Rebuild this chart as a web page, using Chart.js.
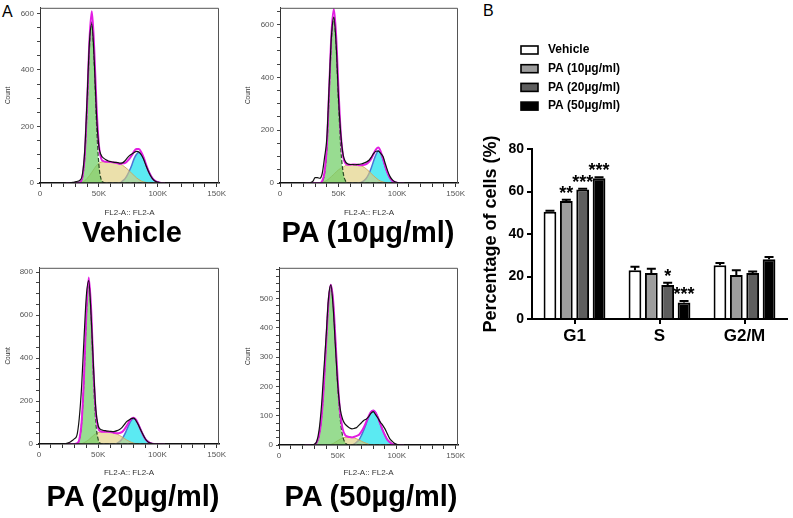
<!DOCTYPE html>
<html><head><meta charset="utf-8">
<script src="https://cdn.jsdelivr.net/npm/chart.js@4.4.0/dist/chart.umd.min.js"></script>
<style>
html,body{margin:0;padding:0;background:#fff}
body{width:793px;height:518px;position:relative;overflow:hidden;font-family:"Liberation Sans",Arial,sans-serif}
canvas{position:absolute}
.big{position:absolute;font-weight:bold;font-size:29px;line-height:29px;white-space:nowrap;transform:translateX(-50%);color:#000}
.lab{position:absolute;font-size:16px;line-height:16px;color:#000}
</style></head><body>
<div class="lab" style="left:2px;top:4px">A</div>
<div class="lab" style="left:483px;top:3px">B</div>
<canvas id="h1" width="232" height="222" style="left:0;top:0"></canvas>
<canvas id="h2" width="232" height="222" style="left:240px;top:0"></canvas>
<canvas id="h3" width="232" height="222" style="left:0;top:260px"></canvas>
<canvas id="h4" width="232" height="222" style="left:240px;top:260px"></canvas>
<canvas id="bars" width="323" height="330" style="left:470px;top:30px"></canvas>
<div class="big" style="left:132px;top:218px">Vehicle</div>
<div class="big" style="left:368px;top:218px">PA (10µg/ml)</div>
<div class="big" style="left:133px;top:482px">PA (20µg/ml)</div>
<div class="big" style="left:371px;top:482px">PA (50µg/ml)</div>
<script>
// ---------- Panel A: DNA content histograms (x in thousands, FL2-A) ----------
const gridK = [22,24,26,28,30,32,34,36,38,40,42,44,46,48,50,52,54,56,58,60,62,64,66,68,70,72,74,76,78,80,82,84,86,88,90,92,94,96,98,100,102,104,106];
const axisRangeK = [0, 152];

// Vehicle
const vehData = [0,0,1,2,4,6,10,30,115,300,500,563,440,240,130,98,88,82,78,76,74,73,72,70,71,78,88,97,103,108,112,110,100,84,62,42,25,13,6,3,1,0,0];
const vehG1   = [0,0,0,0,0,0,2,18,90,265,480,570,430,210,65,12,2,0,0,0,0,0,0,0,0,0,0,0,0,0,0,0,0,0,0,0,0,0,0,0,0,0,0];
const vehS    = [0,0,0,0,0,0,0,3,8,16,26,38,50,62,70,74,75,75,75,74,73,72,70,67,63,57,50,42,34,26,18,12,7,4,2,0,0,0,0,0,0,0,0];
const vehG2   = [0,0,0,0,0,0,0,0,0,0,0,0,0,0,0,0,0,0,0,0,0,0,0,0,7,14,27,44,64,87,102,108,102,87,64,44,27,14,7,3,1,0,0];
const vehFit  = [0,0,0,0,0,0,2,21,98,281,506,608,480,272,135,86,77,75,75,74,73,72,70,67,70,71,77,86,98,113,120,120,109,91,66,44,27,14,7,3,1,0,0];

// PA 10 µg/ml
const pa10Data = [0,0,1,6,20,20,18,35,95,170,370,560,628,520,320,180,105,80,72,70,70,69,70,71,73,76,80,86,98,112,120,121,112,100,72,45,24,12,5,2,0,0,0];
const pa10G1   = [0,0,0,0,0,0,0,5,35,130,340,545,625,510,300,125,38,8,1,0,0,0,0,0,0,0,0,0,0,0,0,0,0,0,0,0,0,0,0,0,0,0,0];
const pa10S    = [0,0,0,0,0,0,0,2,5,10,17,25,33,42,50,56,60,66,68,69,70,70,69,67,64,59,52,44,35,27,19,12,7,4,2,0,0,0,0,0,0,0,0];
const pa10G2   = [0,0,0,0,0,0,0,0,0,0,0,0,0,0,0,0,0,0,0,0,0,0,0,0,4,10,20,36,58,84,108,122,112,88,60,36,18,8,3,1,0,0,0];
const pa10Fit  = [0,0,0,0,0,0,0,7,40,140,357,570,658,552,350,181,98,74,69,69,70,70,69,67,68,69,72,80,93,111,127,134,119,92,62,36,18,8,3,1,0,0,0];

// PA 20 µg/ml
const pa20Data = [0,4,8,16,25,40,120,270,490,690,760,600,360,160,85,68,64,62,60,59,58,59,62,68,76,90,104,112,118,120,108,88,64,42,22,10,4,1,0,0,0,0,0];
const pa20G1   = [0,0,0,0,0,3,20,100,305,600,755,600,305,100,20,3,0,0,0,0,0,0,0,0,0,0,0,0,0,0,0,0,0,0,0,0,0,0,0,0,0,0,0];
const pa20S    = [0,0,0,0,0,0,0,2,6,12,20,30,40,48,53,56,57,57,57,56,54,51,46,40,33,26,19,13,8,4,2,0,0,0,0,0,0,0,0,0,0,0,0];
const pa20G2   = [0,0,0,0,0,0,0,0,0,0,0,0,0,0,0,0,0,0,0,0,0,0,4,11,22,41,65,90,110,118,110,90,65,41,22,11,4,1,0,0,0,0,0];
const pa20Fit  = [0,0,0,0,0,3,20,102,311,612,775,630,345,148,73,59,57,57,57,56,54,51,50,51,55,67,84,103,118,122,112,90,65,41,22,11,4,1,0,0,0,0,0];

// PA 50 µg/ml
const pa50Data = [0,0,0,1,3,12,50,130,250,370,500,547,470,330,200,123,88,72,64,58,55,57,60,68,76,84,88,96,108,114,104,92,78,68,55,38,22,13,6,2,0,0,0];
const pa50G1   = [0,0,0,0,0,9,32,89,197,347,487,545,487,347,197,89,32,9,2,0,0,0,0,0,0,0,0,0,0,0,0,0,0,0,0,0,0,0,0,0,0,0,0];
const pa50S    = [0,0,0,0,0,0,0,0,0,0,0,2,5,10,15,20,24,26,27,27,26,24,21,17,13,9,6,3,1,0,0,0,0,0,0,0,0,0,0,0,0,0,0];
const pa50G2   = [0,0,0,0,0,0,0,0,0,0,0,0,0,0,0,0,0,0,0,0,0,4,10,18,33,51,72,94,111,118,111,94,72,51,33,18,10,4,2,0,0,0,0];
const pa50Fit  = [0,0,0,0,0,9,32,89,197,347,487,547,492,357,212,109,56,35,29,27,26,28,31,35,46,60,78,97,112,118,111,94,72,51,33,18,10,4,2,0,0,0,0];

// ---------- Panel B: cell-cycle distribution ----------
const phases = ['G1', 'S', 'G2/M'];
const groupNames = ['Vehicle', 'PA (10µg/ml)', 'PA (20µg/ml)', 'PA (50µg/ml)'];
const vehiclePct = [50.5, 23.0, 25.3];
const pa10Pct    = [55.5, 21.7, 20.7];
const pa20Pct    = [61.0, 16.0, 21.6];
const pa50Pct    = [66.2, 7.8, 28.1];
const vehicleErr = [0.5, 1.6, 1.1];
const pa10Err    = [0.6, 2.0, 2.2];
const pa20Err    = [0.3, 1.1, 0.7];
const pa50Err    = [0.5, 0.7, 1.1];
const vehicleSig = ['', '', ''];
const pa10Sig    = ['**', '', ''];
const pa20Sig    = ['***', '*', ''];
const pa50Sig    = ['***', '***', ''];
const yTicksB = [0, 20, 40, 60, 80];

Chart.defaults.font.family = '"Liberation Sans", Arial, sans-serif';
Chart.defaults.animation = false;

const pts = ys => ys.map((y, i) => ({x: gridK[i], y}));

const framePlugin = {
  id: 'frame',
  afterDraw(chart) {
    const {ctx, chartArea: a} = chart;
    ctx.save();
    ctx.strokeStyle = '#555';
    ctx.lineWidth = 1;
    ctx.beginPath();
    ctx.moveTo(a.left, a.top + 0.5);
    ctx.lineTo(a.right - 0.5, a.top + 0.5);
    ctx.lineTo(a.right - 0.5, a.bottom);
    ctx.stroke();
    ctx.restore();
  }
};

function histo(id, dat, g1, s, g2, fit, cfg) {
  new Chart(document.getElementById(id), {
    type: 'line',
    data: {datasets: [
      {data: axisRangeK.map(x => ({x, y: 0})), borderColor: '#111', borderWidth: 1.6, order: 0},
      {data: pts(dat), borderColor: '#111', borderWidth: 1.2, order: 0},
      {data: pts(fit), borderColor: '#e21ee2', borderWidth: 2, order: 1},
      {data: pts(g1), borderColor: 'rgba(25,60,25,0.9)', borderDash: [4, 2], borderWidth: 1.2,
       backgroundColor: 'rgba(112,206,102,0.72)', fill: 'origin', order: 2},
      {data: pts(s), borderColor: 'rgba(205,165,90,0.9)', borderWidth: 1,
       backgroundColor: 'rgba(222,205,120,0.62)', fill: 'origin', order: 3},
      {data: pts(g2), borderColor: '#4a74d6', borderWidth: 1.5,
       backgroundColor: 'rgba(45,228,238,0.78)', fill: 'origin', order: 4}
    ]},
    options: {
      responsive: false,
      elements: {point: {radius: 0}, line: {cubicInterpolationMode: 'monotone', fill: false}},
      layout: {padding: {top: 5, right: cfg.padRight, left: 0, bottom: 0}},
      plugins: {legend: {display: false}, tooltip: {enabled: false}},
      scales: {
        x: {
          type: 'linear', min: axisRangeK[0], max: axisRangeK[1],
          border: {color: '#111', width: 1.5},
          grid: {drawOnChartArea: false, drawTicks: true, tickLength: 4, color: '#333'},
          ticks: {stepSize: 10, includeBounds: false, autoSkip: false, maxRotation: 0,
                  font: {size: 8}, color: '#555', padding: 2,
                  callback: v => v === 0 ? '0' : (v % 50 === 0 ? v + 'K' : '')},
          title: {display: true, text: 'FL2-A:: FL2-A', font: {size: 8}, color: '#333', padding: {top: 2, bottom: 4}},
          afterFit: sc => { sc.height = cfg.xH; }
        },
        y: {
          min: 0, max: cfg.ymax,
          border: {color: '#333', width: 1},
          grid: {drawOnChartArea: false, drawTicks: true, tickLength: 3, color: '#444'},
          ticks: {stepSize: cfg.ystep, includeBounds: false, autoSkip: false,
                  font: {size: 8}, color: '#555', padding: 3,
                  callback: v => (v % cfg.ylab === 0 && v <= cfg.ylabMax) ? String(v) : ''},
          title: {display: true, text: 'Count', font: {size: 6.5}, color: '#333', padding: {top: 4, bottom: 0}},
          afterFit: sc => { sc.width = cfg.yw; }
        }
      }
    },
    plugins: [framePlugin]
  });
}

histo('h1', vehData, vehG1, vehS, vehG2, vehFit, {ymax: 620, ystep: 50, ylab: 200, ylabMax: 600, yw: 40, padRight: 13, xH: 39});
histo('h2', pa10Data, pa10G1, pa10S, pa10G2, pa10Fit, {ymax: 663, ystep: 50, ylab: 200, ylabMax: 600, yw: 40, padRight: 14, xH: 39});
histo('h3', pa20Data, pa20G1, pa20S, pa20G2, pa20Fit, {ymax: 820, ystep: 50, ylab: 200, ylabMax: 800, yw: 39, padRight: 13, xH: 38});
histo('h4', pa50Data, pa50G1, pa50S, pa50G2, pa50Fit, {ymax: 605, ystep: 25, ylab: 100, ylabMax: 500, yw: 39, padRight: 14, xH: 37});

// ---------- Bar chart ----------
const barColors = ['#ffffff', '#9d9d9d', '#5e5e5e', '#000000'];
const allPct = [vehiclePct, pa10Pct, pa20Pct, pa50Pct];
const allErr = [vehicleErr, pa10Err, pa20Err, pa50Err];
const allSig = [vehicleSig, pa10Sig, pa20Sig, pa50Sig];

const errPlugin = {
  id: 'errbars',
  afterDatasetsDraw(chart) {
    const {ctx} = chart;
    const ys = chart.scales.y;
    ctx.save();
    chart.data.datasets.forEach((ds, i) => {
      const meta = chart.getDatasetMeta(i);
      meta.data.forEach((bar, j) => {
        const top = ys.getPixelForValue(ds.data[j] + allErr[i][j]);
        ctx.strokeStyle = '#000';
        ctx.lineWidth = 2;
        ctx.beginPath();
        ctx.moveTo(bar.x, bar.y);
        ctx.lineTo(bar.x, top);
        ctx.moveTo(bar.x - 4.5, top);
        ctx.lineTo(bar.x + 4.5, top);
        ctx.stroke();
        const sig = allSig[i][j];
        if (sig) {
          ctx.fillStyle = '#000';
          ctx.font = 'bold 18px "Liberation Sans", Arial, sans-serif';
          ctx.textAlign = 'center';
          ctx.textBaseline = 'alphabetic';
          ctx.fillText(sig, bar.x, top - 1);
        }
      });
    });
    ctx.restore();
  },
  afterDraw(chart) {
    const {ctx} = chart;
    ctx.save();
    chart.data.datasets.forEach((ds, i) => {
      const cy = 20 + i * 18.7;
      ctx.fillStyle = ds.backgroundColor;
      ctx.fillRect(51, cy - 4, 17, 8);
      ctx.strokeStyle = '#000';
      ctx.lineWidth = 1.6;
      ctx.strokeRect(51, cy - 4, 17, 8);
      ctx.fillStyle = '#000';
      ctx.font = 'bold 12px "Liberation Sans", Arial, sans-serif';
      ctx.textAlign = 'left';
      ctx.textBaseline = 'middle';
      ctx.fillText(ds.label, 78, cy);
    });
    ctx.restore();
  }
};

new Chart(document.getElementById('bars'), {
  type: 'bar',
  data: {
    labels: phases,
    datasets: groupNames.map((name, i) => ({
      label: name, data: allPct[i], backgroundColor: barColors[i],
      borderColor: '#000', borderWidth: 2, borderSkipped: 'start',
      barPercentage: 0.78, categoryPercentage: 0.77
    }))
  },
  options: {
    responsive: false,
    layout: {padding: {top: 119, right: 6, left: 0, bottom: 0}},
    plugins: {legend: {display: false}, tooltip: {enabled: false}},
    scales: {
      x: {
        border: {color: '#000', width: 2},
        grid: {drawOnChartArea: false, drawTicks: true, tickLength: 5, lineWidth: 2, color: '#000', offset: false},
        ticks: {font: {size: 17, weight: 'bold'}, color: '#000', padding: 2},
        afterFit: sc => { sc.height = 41; }
      },
      y: {
        min: yTicksB[0], max: yTicksB[yTicksB.length - 1],
        border: {color: '#000', width: 2},
        grid: {drawOnChartArea: false, drawTicks: true, tickLength: 5, lineWidth: 2, color: '#000'},
        ticks: {stepSize: yTicksB[1] - yTicksB[0], font: {size: 14, weight: 'bold'}, color: '#000', padding: 3},
        title: {display: true, text: 'Percentage of cells (%)', font: {size: 18, weight: 'bold'}, color: '#000', padding: {top: 10, bottom: 0}},
        afterFit: sc => { sc.width = 62; }
      }
    }
  },
  plugins: [errPlugin]
});
</script>
</body></html>
